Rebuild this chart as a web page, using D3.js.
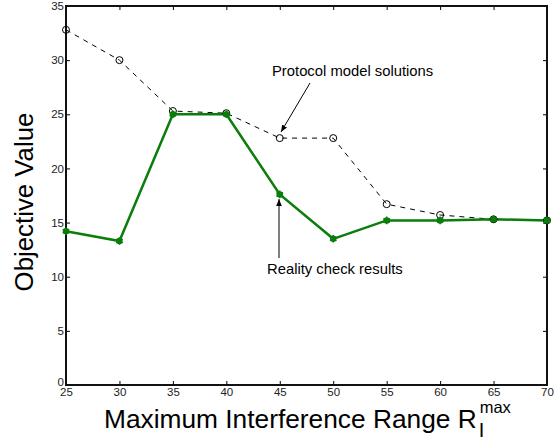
<!DOCTYPE html>
<html>
<head>
<meta charset="utf-8">
<script src="https://cdn.jsdelivr.net/npm/d3@7"></script>
<style>
body { margin: 0; background: #fff; }
text { font-family: Arial, "Liberation Sans", sans-serif; }
</style>
</head>
<body>
<svg id="chart" width="555" height="443"></svg>
<script>
const ranges = [25, 30, 35, 40, 45, 50, 55, 60, 65, 70];
const protocolValues = [32.8, 30.0, 25.3, 25.1, 22.8, 22.8, 16.7, 15.7, 15.3, 15.2];
const realityValues = [14.2, 13.3, 25.0, 25.0, 17.6, 13.5, 15.2, 15.2, 15.3, 15.2];
const xTicks = [25, 30, 35, 40, 45, 50, 55, 60, 65, 70];
const yTicks = [0, 5, 10, 15, 20, 25, 30, 35];

const svg = d3.select("#chart");
const plotLeft = 66, plotRight = 547, plotTop = 6, plotBottom = 385;

const x = d3.scaleLinear().domain([25, 70]).range([plotLeft, plotRight]);
const y = d3.scaleLinear().domain([0, 35]).range([plotBottom, plotTop]);

// box with inward ticks
svg.append("g")
    .attr("transform", "translate(0," + plotBottom + ")")
    .call(d3.axisBottom(x).tickValues(xTicks).tickSize(-4).tickPadding(3).tickSizeOuter(0))
    .call(g => g.select(".domain").remove())
    .call(g => g.selectAll("text").attr("font-size", 11.5).attr("fill", "#222"));
svg.append("g")
    .attr("transform", "translate(0," + plotTop + ")")
    .call(d3.axisTop(x).tickValues(xTicks).tickSize(-4).tickFormat(""))
    .call(g => g.select(".domain").remove());
svg.append("g")
    .attr("transform", "translate(" + plotLeft + ",0)")
    .call(d3.axisLeft(y).tickValues(yTicks).tickSize(-4).tickPadding(2))
    .call(g => g.select(".domain").remove())
    .call(g => g.selectAll("text").attr("font-size", 11.5).attr("fill", "#222"))
    .call(g => g.selectAll("text").filter(d => d === 0).attr("dy", "0.05em"));
svg.append("g")
    .attr("transform", "translate(" + plotRight + ",0)")
    .call(d3.axisRight(y).tickValues(yTicks).tickSize(-4).tickFormat(""))
    .call(g => g.select(".domain").remove());

svg.append("rect")
    .attr("x", plotLeft).attr("y", plotTop)
    .attr("width", plotRight - plotLeft).attr("height", plotBottom - plotTop)
    .attr("fill", "none").attr("stroke", "#111").attr("stroke-width", 2);

// protocol model (dashed, open circles)
const line = d3.line().x((d, i) => x(ranges[i])).y(d => y(d));
svg.append("path")
    .datum(protocolValues)
    .attr("d", line)
    .attr("fill", "none").attr("stroke", "#000")
    .attr("stroke-width", 1).attr("stroke-dasharray", "5,5");

// reality check (green solid)
svg.append("path")
    .datum(realityValues)
    .attr("d", line)
    .attr("fill", "none").attr("stroke", "#0a7d0a")
    .attr("stroke-width", 2.5);

svg.selectAll(".pcirc")
    .data(protocolValues)
    .enter().append("circle")
    .attr("cx", (d, i) => x(ranges[i]))
    .attr("cy", d => y(d))
    .attr("r", 3.5)
    .attr("fill", "none").attr("stroke", "#000").attr("stroke-width", 1);

const star = d3.symbol().type(d3.symbolAsterisk).size(40);
svg.selectAll(".rstar")
    .data(realityValues)
    .enter().append("g")
    .attr("transform", (d, i) => "translate(" + x(ranges[i]) + "," + y(d) + ")")
    .each(function () {
        d3.select(this).append("circle").attr("r", 3.2).attr("fill", "#0a7d0a");
        d3.select(this).append("path").attr("d", star).attr("stroke", "#0a7d0a").attr("stroke-width", 1.5);
    });

// annotations
svg.append("defs").append("marker")
    .attr("id", "arrow").attr("viewBox", "0 0 10 10")
    .attr("refX", 10).attr("refY", 5)
    .attr("markerWidth", 7).attr("markerHeight", 7)
    .attr("orient", "auto-start-reverse")
    .append("path").attr("d", "M0,1 L10,5 L0,9 z").attr("fill", "#000");

svg.append("text")
    .attr("x", 272).attr("y", 76)
    .attr("font-size", 14.8)
    .text("Protocol model solutions");
svg.append("line")
    .attr("x1", 310).attr("y1", 83).attr("x2", 281).attr("y2", 132)
    .attr("stroke", "#000").attr("stroke-width", 1)
    .attr("marker-end", "url(#arrow)");

svg.append("text")
    .attr("x", 267).attr("y", 274)
    .attr("font-size", 14.8)
    .text("Reality check results");
svg.append("line")
    .attr("x1", 279).attr("y1", 258).attr("x2", 279).attr("y2", 199)
    .attr("stroke", "#000").attr("stroke-width", 1)
    .attr("marker-end", "url(#arrow)");

// axis titles
svg.append("text")
    .attr("transform", "translate(33,202) rotate(-90)")
    .attr("text-anchor", "middle")
    .attr("font-size", 25.8)
    .text("Objective Value");

const xTitle = svg.append("text")
    .attr("x", 104).attr("y", 428)
    .attr("font-size", 26.3)
    .text("Maximum Interference Range R");
const titleEnd = 104 + xTitle.node().getComputedTextLength();
svg.append("text")
    .attr("x", titleEnd + 2).attr("y", 437)
    .attr("font-size", 20)
    .text("I");
svg.append("text")
    .attr("x", titleEnd + 3).attr("y", 413)
    .attr("font-size", 16.5)
    .text("max");
</script>
</body>
</html>
